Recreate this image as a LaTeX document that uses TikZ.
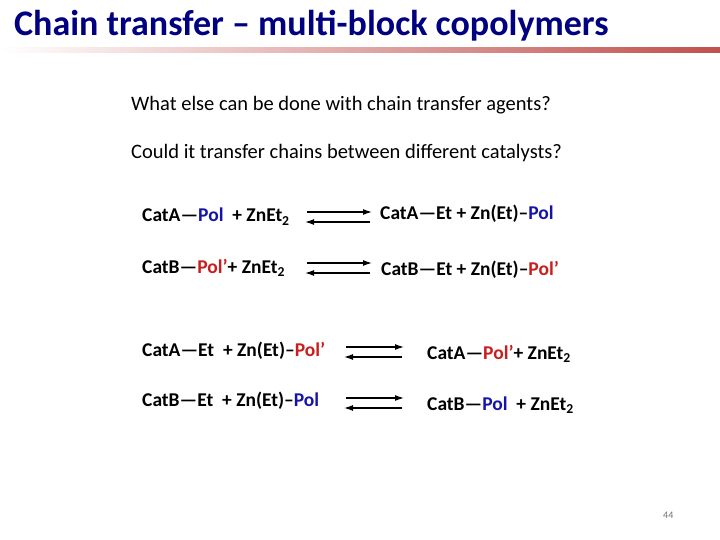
\documentclass[tikz,border=0pt]{standalone}
\usepackage{fontspec}
\setmainfont{Carlito}
\usetikzlibrary{arrows.meta}
\definecolor{navy}{RGB}{0,0,128}
\definecolor{polb}{RGB}{20,20,170}
\definecolor{polr}{RGB}{200,30,30}
\definecolor{barred}{RGB}{192,80,77}
\begin{document}
\begin{tikzpicture}[x=1pt,y=-1pt,
  eq/.style={anchor=base west,inner sep=0pt,font=\fontsize{19.5}{22}\selectfont\bfseries},
  body/.style={anchor=base west,inner sep=0pt,font=\fontsize{20.5}{24}\selectfont},
  rxn/.style={-{Latex[length=9pt,width=6pt]},line width=1.3pt}]
\useasboundingbox (0,0) rectangle (720,540);
\fill[white] (0,0) rectangle (720,540);
\shade[left color=white,right color=barred] (0,48) rectangle (720,53);
\node[anchor=base west,inner sep=0pt,text=navy,font=\fontsize{36}{40}\selectfont\bfseries] (title) at (14,36) {Chain transfer – multi-block copolymers};
\node[body] (q1) at (131,111) {What else can be done with chain transfer agents?};
\node[body] (q2) at (131,159) {Could it transfer chains between different catalysts?};
\newcommand{\PB}{\textcolor{polb}{Pol}}
\newcommand{\PR}{\textcolor{polr}{Pol{\char"0027}}}
\newcommand{\ZE}{ZnEt\textsubscript{2}}
\node[eq] (l1) at (142,222) {CatA—\PB{} \ + \ZE};
\node[eq] (r1) at (380,220) {CatA—Et + Zn(Et)–\PB};
\node[eq] (l2) at (142,273) {CatB—\PR{}+ \ZE};
\node[eq] (r2) at (381,275) {CatB—Et + Zn(Et)–\PR};
\node[eq] (l3) at (142,356) {CatA—Et \ + Zn(Et)–\PR};
\node[eq] (r3) at (427,359) {CatA—\PR{}+ \ZE};
\node[eq] (l4) at (142,406) {CatB—Et \ + Zn(Et)–\PB};
\node[eq] (r4) at (427,410) {CatB—\PB{} \ + \ZE};
\coordinate (a1s) at (307,212); \coordinate (a1e) at (372,212);
\coordinate (b1s) at (370,222); \coordinate (b1e) at (305,222);
\coordinate (a2s) at (307,263); \coordinate (a2e) at (372,263);
\coordinate (b2s) at (370,273); \coordinate (b2e) at (305,273);
\coordinate (a3s) at (346,347); \coordinate (a3e) at (404,347);
\coordinate (b3s) at (402,357); \coordinate (b3e) at (344,357);
\coordinate (a4s) at (346,398); \coordinate (a4e) at (404,398);
\coordinate (b4s) at (402,408); \coordinate (b4e) at (344,408);
\foreach \i in {1,2,3,4}{\draw[rxn] (a\i s) -- (a\i e); \draw[rxn] (b\i s) -- (b\i e);}
\node[anchor=base west,inner sep=0pt,text=black!55,font=\fontsize{10}{12}\selectfont] (pg) at (663,518) {44};
\end{tikzpicture}
\end{document}
